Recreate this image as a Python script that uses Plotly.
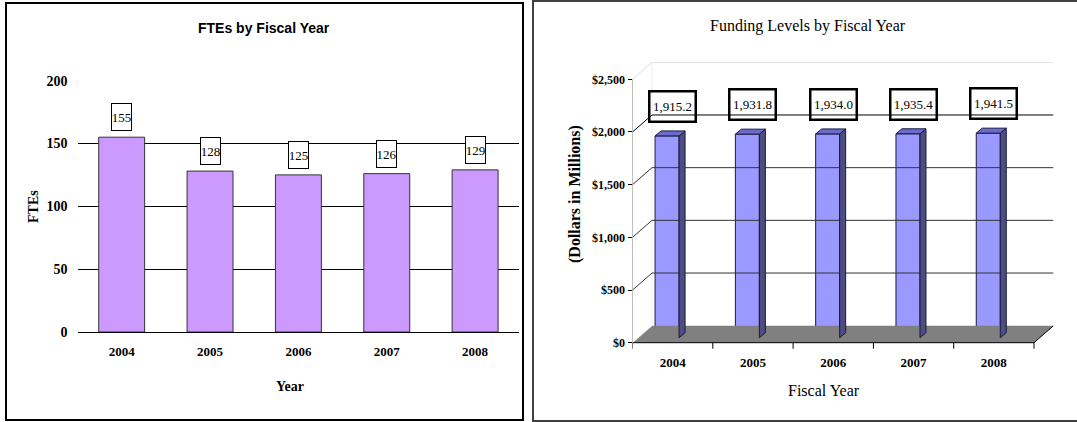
import plotly.graph_objs as go

W, H = 1077, 422

years = ["2004", "2005", "2006", "2007", "2008"]
fte_values = [155, 128, 125, 126, 129]
funding_values = [1915.2, 1931.8, 1934.0, 1935.4, 1941.5]
fte_ticks = [0, 50, 100, 150, 200]
funding_ticks = [0, 500, 1000, 1500, 2000, 2500]
funding_tick_text = ["$0", "$500", "$1,000", "$1,500", "$2,000", "$2,500"]

SERIF = "Liberation Serif, Times New Roman, serif"
SANS = "Liberation Sans, Arial, sans-serif"


def px_x(p):
    return p / W


def px_y(p):
    return 1 - p / H


# pseudo 3D settings for the funding chart (in data units)
K = 0.10536          # pixels per dollar-million
CAT = 80.3           # pixels per category
DX = 19.5 / CAT      # back wall depth offset
DY = 17 / K
BX = 6 / CAT         # bar depth
BY = 5 / K
BAR_L, BAR_R = -0.219, 0.080
Y_MIN, Y_MAX = -60, 2664

n = len(years)
pos = list(range(n))

fig = go.Figure()

# ---------------- left chart: FTEs ----------------
fig.add_trace(go.Bar(
    x=pos, y=fte_values, width=0.52,
    marker=dict(color="#CC99FF", line=dict(color="#333333", width=1)),
    xaxis="x", yaxis="y", hoverinfo="y",
))

# ---------------- right chart: funding ----------------
def line(xs, ys, color, width=1):
    fig.add_trace(go.Scatter(
        x=xs, y=ys, mode="lines", line=dict(color=color, width=width),
        xaxis="x2", yaxis="y2", hoverinfo="skip",
    ))


# floor
fig.add_trace(go.Scatter(
    x=[-0.5, n - 0.5, n - 0.5 + DX, -0.5 + DX, -0.5],
    y=[0, 0, DY, DY, 0], fill="toself", fillcolor="#808080",
    mode="lines", line=dict(color="#808080", width=0),
    xaxis="x2", yaxis="y2", hoverinfo="skip",
))
line([-0.5, -0.5 + DX], [0, DY], "#E8E8E8")
line([n - 0.5, n - 0.5 + DX], [0, DY], "black")

# back wall top and left edge
top = funding_ticks[-1]
line([-0.5, -0.5 + DX, n - 0.5 + DX], [top, top + DY, top + DY], "#DDDDDD")
line([-0.5 + DX, -0.5 + DX], [DY, top + DY], "#EEEEEE")

# back wall gridlines with diagonal ticks
for v in funding_ticks[1:-1]:
    line([-0.5, -0.5 + DX, n - 0.5 + DX], [v, v + DY, v + DY],
         "black" if v == 2000 else "#333333")

# axis lines
line([-0.5, -0.5], [0, top], "#808080")
line([-0.5, n - 0.5], [0, 0], "black")
for k in range(n + 1):
    line([k - 0.5, k - 0.5], [0, -6 / K], "black")

# bars: front face as bars, side and top as polygons
fig.add_trace(go.Bar(
    x=pos, y=funding_values, base=BY, offset=BAR_L,
    width=BAR_R - BAR_L,
    marker=dict(color="#9999FF", line=dict(color="#1A1A40", width=1)),
    xaxis="x2", yaxis="y2", hoverinfo="y",
))
for i, v in enumerate(funding_values):
    x0, x1 = i + BAR_L, i + BAR_R
    y0, y1 = BY, v + BY
    fig.add_trace(go.Scatter(
        x=[x1, x1 + BX, x1 + BX, x1, x1],
        y=[y0, y0 + BY, y1 + BY, y1, y0],
        fill="toself", fillcolor="#4D4D80", mode="lines",
        line=dict(color="#1A1A40", width=1),
        xaxis="x2", yaxis="y2", hoverinfo="skip",
    ))
    fig.add_trace(go.Scatter(
        x=[x0, x1, x1 + BX, x0 + BX, x0],
        y=[y1, y1, y1 + BY, y1 + BY, y1],
        fill="toself", fillcolor="#6B6BCC", mode="lines",
        line=dict(color="#1A1A40", width=1),
        xaxis="x2", yaxis="y2", hoverinfo="skip",
    ))

annotations = []
for i, v in enumerate(fte_values):
    annotations.append(dict(
        x=i, y=v, xref="x", yref="y", text=str(v), showarrow=False,
        xanchor="center", yanchor="bottom", yshift=6, width=19, height=26,
        bgcolor="white", bordercolor="black", borderwidth=1, borderpad=0,
        font=dict(family=SERIF, size=13, color="black"),
    ))
for i, v in enumerate(funding_values):
    annotations.append(dict(
        x=i, y=v, xref="x2", yref="y2", text=f"{v:,.1f}", showarrow=False,
        xanchor="center", yanchor="bottom", yshift=18, width=44, height=28,
        bordercolor="black", borderwidth=2.5, borderpad=0,
        font=dict(family=SERIF, size=13, color="black"),
    ))


def label(x, y, text, family, size, angle=0):
    return dict(x=px_x(x), y=px_y(y), xref="paper", yref="paper",
                text=text, showarrow=False, textangle=angle,
                xanchor="center", yanchor="middle",
                font=dict(family=family, size=size, color="black"))


annotations += [
    label(264, 28, "<b>FTEs by Fiscal Year</b>", SANS, 14),
    label(33, 207, "<b>FTEs</b>", SERIF, 14, -90),
    label(290, 386, "<b>Year</b>", SERIF, 14),
    label(808, 26, "Funding Levels by Fiscal Year", SERIF, 16),
    label(575, 194, "<b>(Dollars in Millions)</b>", SERIF, 16, -90),
    label(824, 390, "Fiscal Year", SERIF, 16),
]

# panel frames
shapes = [
    dict(type="rect", xref="paper", yref="paper",
         x0=px_x(6), x1=px_x(523), y0=px_y(420), y1=px_y(3),
         line=dict(color="black", width=2)),
    dict(type="rect", xref="paper", yref="paper",
         x0=px_x(533), x1=1.01, y0=px_y(421), y1=px_y(1),
         line=dict(color="#404040", width=2)),
]

tick_serif = dict(family=SERIF, size=13, color="black", weight="bold")

fig.update_layout(
    width=W, height=H,
    margin=dict(l=0, r=0, t=0, b=0, pad=0, autoexpand=False),
    paper_bgcolor="white", plot_bgcolor="rgba(0,0,0,0)",
    showlegend=False,
    annotations=annotations, shapes=shapes,
    xaxis=dict(
        domain=[px_x(77.5), px_x(519.3)], range=[-0.5, n - 0.5],
        tickvals=pos, ticktext=years, anchor="y", automargin=False,
        showgrid=False, showline=False, zeroline=False, ticks="",
        ticklabelstandoff=10, tickfont=tick_serif, fixedrange=True,
    ),
    yaxis=dict(
        domain=[px_y(332), px_y(80)], range=[0, 200.5], tickvals=fte_ticks,
        anchor="x", automargin=False,
        showgrid=True, gridcolor="black", gridwidth=1,
        zeroline=True, zerolinecolor="black", zerolinewidth=1,
        showline=False, ticks="", ticklabelstandoff=9,
        tickfont=dict(family=SERIF, size=14, color="black", weight="bold"),
        fixedrange=True,
    ),
    xaxis2=dict(
        domain=[px_x(632.5), px_x(632.5 + (n + DX) * CAT)],
        range=[-0.5, n - 0.5 + DX], tickvals=pos, ticktext=years,
        anchor="y2", automargin=False,
        showgrid=False, showline=False, zeroline=False, ticks="",
        ticklabelstandoff=4, tickfont=tick_serif, fixedrange=True,
    ),
    yaxis2=dict(
        domain=[px_y(342.7 - Y_MIN * K), px_y(342.7 - Y_MAX * K)],
        range=[Y_MIN, Y_MAX], tickvals=funding_ticks,
        ticktext=funding_tick_text, anchor="x2", automargin=False,
        showgrid=False, showline=False, zeroline=False,
        ticks="outside", ticklen=4, tickcolor="black",
        tickfont=dict(family=SERIF, size=12, color="black", weight="bold"),
        fixedrange=True,
    ),
)

fig.write_html("out.html", config={"displayModeBar": False},
               post_script="document.body.style.margin='0';")
